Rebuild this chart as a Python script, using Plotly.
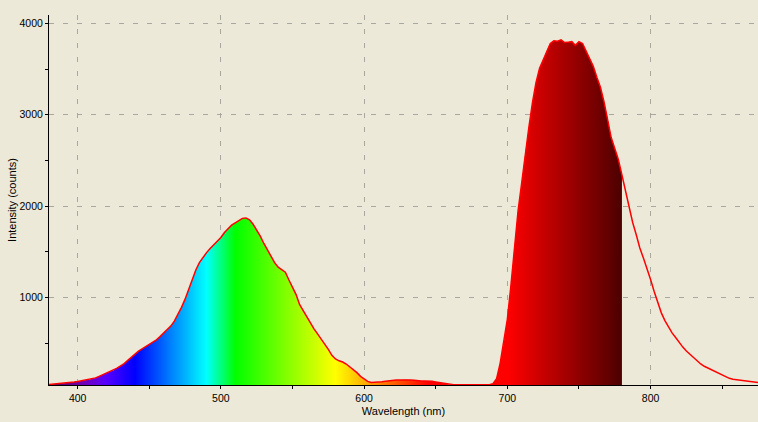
import plotly.graph_objects as go

# Wavelength grid (nm) and intensity values (counts)
wavelength = [380 + 2.5 * i for i in range(199)]
intensity = [
    45, 48, 52, 55, 58, 63, 68, 73, 78, 85,            # 380-402.5
    92, 98, 105, 118, 135, 152, 170, 185, 200, 225,    # 405-427.5
    250, 275, 310, 345, 380, 410, 435, 460, 485, 510,  # 430-452.5
    535, 570, 605, 640, 685, 740, 810, 890, 980, 1090, # 455-477.5
    1200, 1300, 1380, 1440, 1490, 1535, 1575, 1615, 1655, 1710,  # 480-502.5
    1755, 1790, 1815, 1840, 1865, 1870, 1850, 1800, 1740, 1670,  # 505-527.5
    1590, 1520, 1460, 1380, 1330, 1300, 1275, 1190, 1110, 1030,  # 530-552.5
    920, 850, 780, 725, 655, 600, 545, 495, 430, 365,  # 555-577.5
    325, 305, 292, 270, 240, 205, 175, 135, 105, 80,   # 580-602.5
    68, 68, 70, 75, 82, 88, 92, 94, 95, 97,            # 605-627.5
    98, 96, 92, 86, 83, 84, 85, 80, 74, 68,            # 630-652.5
    58, 50, 45, 44, 43, 42, 42, 42, 42, 42,            # 655-677.5
    42, 42, 42, 42, 55, 110, 280, 500, 760, 1130,      # 680-702.5
    1560, 1950, 2250, 2580, 2860, 3130, 3350, 3510, 3600, 3700,  # 705-727.5
    3780, 3810, 3805, 3820, 3790, 3795, 3800, 3760, 3800, 3780,  # 730-752.5
    3700, 3620, 3530, 3410, 3300, 3140, 2960, 2750, 2630, 2510,  # 755-777.5
    2340, 2170, 1980, 1820, 1685, 1540, 1430, 1320, 1195, 1065,  # 780-802.5
    950, 830, 745, 675, 610, 560, 505, 455, 412, 375,  # 805-827.5
    338, 298, 270, 245, 225, 205, 185, 165, 145, 127,  # 830-852.5
    113, 102, 97, 92, 87, 83, 78, 72, 68,              # 855-875
]

fill_end = 780
x_ticks = [400, 500, 600, 700, 800]
y_ticks = [1000, 2000, 3000, 4000]

BG = "#ECE9D8"
FONT = "Liberation Sans, Arial, sans-serif"


def wl_rgb(w):
    if w < 440:
        r, g, b = -(w - 440) / 60, 0.0, 1.0
    elif w < 490:
        r, g, b = 0.0, (w - 440) / 50, 1.0
    elif w < 510:
        r, g, b = 0.0, 1.0, -(w - 510) / 20
    elif w < 580:
        r, g, b = (w - 510) / 70, 1.0, 0.0
    elif w < 645:
        r, g, b = 1.0, -(w - 645) / 65, 0.0
    else:
        r, g, b = 1.0, 0.0, 0.0
    if w < 420:
        f = 0.3 + 0.7 * (w - 380) / 40
    elif w > 700:
        f = 0.3 + 0.7 * (780 - w) / 80
    else:
        f = 1.0
    return "rgb(%d,%d,%d)" % (round(255 * r * f), round(255 * g * f), round(255 * b * f))


x0 = wavelength[0]
stops = [x0 + 5 * i for i in range(int((fill_end - x0) / 5) + 1)]
colorscale = [[(s - x0) / (fill_end - x0), wl_rgb(s)] for s in stops]

fx = [w for w in wavelength if w <= fill_end]
fy = intensity[:len(fx)]

fig = go.Figure()
fig.add_trace(go.Scatter(
    x=fx, y=fy, mode="none", fill="tozeroy",
    fillgradient=dict(type="horizontal", colorscale=colorscale, start=x0, stop=fill_end),
    hoverinfo="skip", showlegend=False,
))
fig.add_trace(go.Scatter(
    x=wavelength, y=intensity, mode="lines",
    line=dict(color="#FF0000", width=1.5),
    showlegend=False,
))

xr = [380, 875]
yr = [40, 4092]
grid = dict(showgrid=True, gridcolor="#A8A8A0", gridwidth=1, griddash="5px,9px")
tickfont = dict(size=10.5)

fig.update_layout(
    width=758, height=422,
    paper_bgcolor=BG, plot_bgcolor=BG,
    margin=dict(l=49, r=0, t=15, b=37),
    font=dict(family=FONT, size=11, color="#000000"),
    xaxis=dict(
        range=xr, tickvals=x_ticks, ticks="outside", ticklen=3, tickcolor="#000",
        tickfont=tickfont,
        showline=True, linecolor="#000", linewidth=1, zeroline=False,
        minor=dict(dtick=50, tick0=0, ticks="outside", ticklen=3, tickcolor="#000", showgrid=False),
        title=dict(text="Wavelength (nm)", standoff=4, font=dict(size=11)),
        **grid,
    ),
    yaxis=dict(
        range=yr, tickvals=y_ticks, ticks="outside", ticklen=3, tickcolor="#000",
        tickfont=tickfont,
        showline=True, linecolor="#000", linewidth=1, zeroline=False,
        minor=dict(dtick=500, tick0=0, ticks="outside", ticklen=3, tickcolor="#000", showgrid=False),
        title=dict(text="Intensity (counts)", standoff=0, font=dict(size=11)),
        **grid,
    ),
    xaxis2=dict(
        range=xr, overlaying="x", anchor="y", side="bottom", tickvals=x_ticks,
        ticks="inside", ticklen=3, tickcolor="#000", showticklabels=False,
        showgrid=False, zeroline=False, showline=False,
        minor=dict(dtick=50, tick0=0, ticks="inside", ticklen=3, tickcolor="#000", showgrid=False),
    ),
    yaxis2=dict(
        range=yr, overlaying="y", anchor="x", side="left", tickvals=y_ticks,
        ticks="inside", ticklen=3, tickcolor="#000", showticklabels=False,
        showgrid=False, zeroline=False, showline=False,
        minor=dict(dtick=500, tick0=0, ticks="inside", ticklen=3, tickcolor="#000", showgrid=False),
    ),
)

fig.write_html(
    "out.html",
    config={"displayModeBar": False},
    post_script="document.body.style.margin='0';document.body.style.padding='0';"
                "document.body.style.background='" + BG + "';",
)
